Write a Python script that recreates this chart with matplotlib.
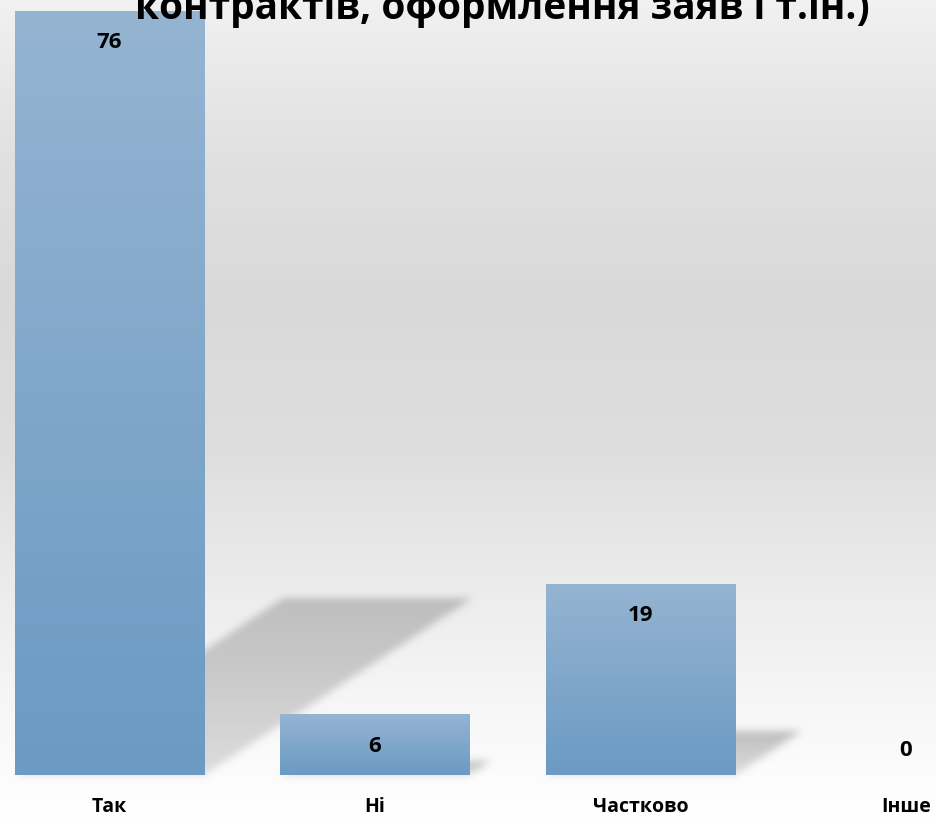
import matplotlib
matplotlib.use("Agg")
import matplotlib.pyplot as plt
import numpy as np
from matplotlib.colors import to_rgb

categories = ["Так", "Ні", "Частково", "Інше"]
values = [76, 6, 19, 0]
title = "контрактів, оформлення заяв і т.ін.)"

plt.rcParams['font.family'] = ['Open Sans', 'DejaVu Sans']

W, H = 936, 818
fig = plt.figure(figsize=(W / 100, H / 100), dpi=100)
ax = fig.add_axes([0, 0, 1, 1])
XLIM = (-0.4124, 3.113)
YLIM = (-4.28, 77.11)

# background: soft vertical grey gradient
stops_y = [0, 150, 300, 450, 600, 700, 775, 818]
stops_v = [241, 225, 217, 222, 237, 246, 252, 255]
rows = np.interp(np.arange(H), stops_y, stops_v) / 255
bg = np.repeat(rows[:, None], W, axis=1)
ax.imshow(np.dstack([bg, bg, bg]), extent=[0, 1, 0, 1], transform=ax.transAxes,
          aspect='auto', zorder=0)

xs = np.arange(len(values))
bw = 0.712

# perspective shadows cast up and to the right
s_h, s_k = 0.232, 0.01333
gx = XLIM[0] + (np.arange(W) + 0.5) / W * (XLIM[1] - XLIM[0])
gy = YLIM[1] - (np.arange(H) + 0.5) / H * (YLIM[1] - YLIM[0])
GX, GY = np.meshgrid(gx, gy)
alpha = np.zeros((H, W))
for x, v in zip(xs, values):
    if v <= 0:
        continue
    top = s_h * v
    inside = (GY >= 0) & (GY <= top)
    inside &= np.abs(GX - s_k * (GY / s_h) - x) <= bw / 2
    t = np.clip(GY / top, 0, 1)
    alpha = np.maximum(alpha, inside * (0.5 + 0.5 * t))


def blur(a, r):
    k = np.ones(2 * r + 1) / (2 * r + 1)
    a = np.apply_along_axis(lambda m: np.convolve(m, k, mode='same'), 0, a)
    a = np.apply_along_axis(lambda m: np.convolve(m, k, mode='same'), 1, a)
    return a


alpha = blur(blur(alpha, 4), 4)
sh = np.zeros((H, W, 4))
sh[..., :3] = 190 / 255
sh[..., 3] = alpha
ax.imshow(sh, extent=[0, 1, 0, 1], transform=ax.transAxes, aspect='auto', zorder=1)

# bars with vertical gradient
top_c = np.array(to_rgb("#95b4d2"))
bot_c = np.array(to_rgb("#6b9ac3"))
g = np.linspace(0, 1, 256)[:, None, None]
grad = top_c * (1 - g) + bot_c * g
for x, v in zip(xs, values):
    if v > 0:
        ax.imshow(grad, extent=[x - bw / 2, x + bw / 2, 0, v], aspect='auto',
                  zorder=3, interpolation='bilinear')

for x, v in zip(xs, values):
    ax.text(x, max(v - 3.7, 1.9), str(v), ha='center', va='baseline',
            fontsize=16, fontweight='bold', zorder=5)

for x, c in zip(xs, categories):
    ax.text(x, YLIM[0] + 0.6, c, ha='center', va='baseline',
            fontsize=14, fontweight='bold', zorder=5)

ax.text(0.537, 1 - 19 / H, title, transform=fig.transFigure, ha='center',
        va='baseline', fontsize=28, fontweight='bold', zorder=6)

ax.set_xlim(*XLIM)
ax.set_ylim(*YLIM)
ax.axis('off')

fig.savefig("out.png", dpi=100)
